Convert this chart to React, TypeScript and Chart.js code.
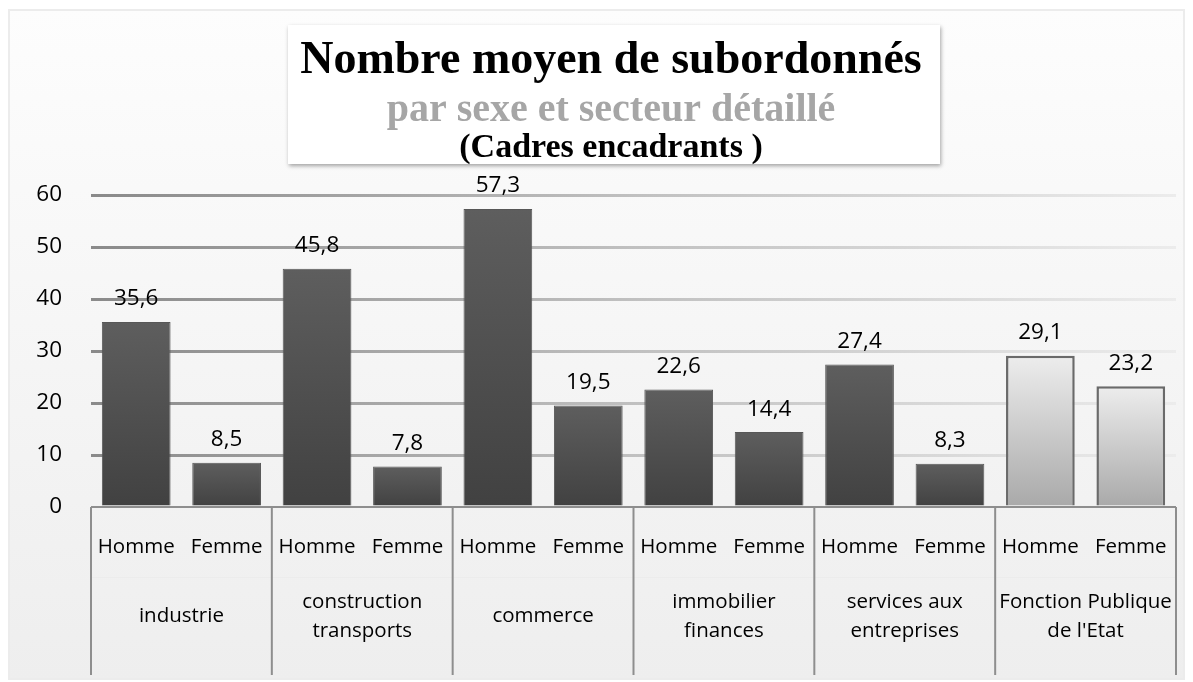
import React, { useEffect, useRef } from "react";
import { Chart, registerables } from "chart.js";

Chart.register(...registerables);

const titleLines = ["Nombre moyen de subordonnés", "par sexe et secteur détaillé", "(Cadres encadrants )"];
const sectors = [["industrie"], ["construction", "transports"], ["commerce"], ["immobilier", "finances"], ["services aux", "entreprises"], ["Fonction Publique", "de l'Etat"]];
const sexes = ["Homme", "Femme"];
const values = [35.6, 8.5, 45.8, 7.8, 57.3, 19.5, 22.6, 14.4, 27.4, 8.3, 29.1, 23.2];
const lightBars = [false, false, false, false, false, false, false, false, false, false, true, true];
const yTicks = [0, 10, 20, 30, 40, 50, 60];

const labels = values.map((_, i) => sexes[i % 2]);
const FONT = "'Open Sans', sans-serif";

const bgPlugin = {
  id: "bg",
  beforeDraw(chart: any) {
    const { ctx, width, height } = chart;
    ctx.save();
    ctx.fillStyle = "#ffffff";
    ctx.fillRect(0, 0, width, height);
    const g = ctx.createLinearGradient(0, 9, 0, 680);
    g.addColorStop(0, "#fdfdfd");
    g.addColorStop(1, "#eeeeee");
    ctx.fillStyle = g;
    ctx.fillRect(8, 9, 1177, 671);
    ctx.strokeStyle = "#ececec";
    ctx.lineWidth = 2;
    ctx.strokeRect(9, 10, 1175, 669);
    ctx.restore();
  },
};

const axisPlugin = {
  id: "multiAxis",
  afterDatasetsDraw(chart: any) {
    const { ctx, chartArea } = chart;
    const x = chart.scales.x;
    const bottom = chartArea.bottom;
    ctx.save();
    ctx.strokeStyle = "#8e8e8e";
    ctx.lineWidth = 2;
    ctx.beginPath();
    ctx.moveTo(chartArea.left, bottom);
    ctx.lineTo(chartArea.right, bottom);
    ctx.stroke();
    ctx.strokeStyle = "#ececec";
    ctx.lineWidth = 1;
    ctx.beginPath();
    ctx.moveTo(chartArea.left, 577.5);
    ctx.lineTo(chartArea.right, 577.5);
    ctx.stroke();
    ctx.strokeStyle = "#8e8e8e";
    ctx.lineWidth = 2;
    const n = values.length;
    for (let k = 0; k <= n; k += 2) {
      const px = k === n ? chartArea.right : k === 0 ? chartArea.left : (x.getPixelForValue(k - 1) + x.getPixelForValue(k)) / 2;
      ctx.beginPath();
      ctx.moveTo(px, bottom);
      ctx.lineTo(px, 675);
      ctx.stroke();
    }
    ctx.fillStyle = "#000";
    ctx.font = `20.5px ${FONT}`;
    ctx.textAlign = "center";
    ctx.textBaseline = "middle";
    for (let i = 0; i < n; i++) {
      ctx.fillText(labels[i], x.getPixelForValue(i), 547);
    }
    for (let s = 0; s < sectors.length; s++) {
      const cx = (x.getPixelForValue(2 * s) + x.getPixelForValue(2 * s + 1)) / 2;
      const lines = sectors[s];
      if (lines.length === 1) {
        ctx.fillText(lines[0], cx, 616);
      } else {
        ctx.fillText(lines[0], cx, 602);
        ctx.fillText(lines[1], cx, 631);
      }
    }
    const meta = chart.getDatasetMeta(0);
    ctx.font = `22.5px ${FONT}`;
    meta.data.forEach((bar: any, i: number) => {
      ctx.fillText(values[i].toFixed(1).replace(".", ","), bar.x, bar.y - 23);
    });
    ctx.restore();
  },
  afterDraw(chart: any) {
    const { ctx } = chart;
    ctx.save();
    ctx.shadowColor = "rgba(0,0,0,0.35)";
    ctx.shadowBlur = 4;
    ctx.shadowOffsetX = 1;
    ctx.shadowOffsetY = 2;
    ctx.fillStyle = "#ffffff";
    ctx.fillRect(288, 25, 652, 139);
    ctx.restore();
    ctx.save();
    ctx.textAlign = "center";
    ctx.textBaseline = "alphabetic";
    const cx = 611;
    ctx.fillStyle = "#000";
    ctx.font = `bold 46px 'Liberation Serif', serif`;
    ctx.fillText(titleLines[0], cx, 73);
    ctx.fillStyle = "#a6a6a6";
    ctx.font = `bold 40px 'Liberation Serif', serif`;
    ctx.fillText(titleLines[1], cx, 121);
    ctx.fillStyle = "#000";
    ctx.font = `bold 34px 'Liberation Serif', serif`;
    ctx.fillText(titleLines[2], cx, 157);
    ctx.restore();
  },
};

export default function App() {
  const ref = useRef<HTMLCanvasElement | null>(null);
  useEffect(() => {
    if (!ref.current) return;
    const chart = new Chart(ref.current, {
      type: "bar",
      data: {
        labels,
        datasets: [
          {
            data: values,
            backgroundColor: (c: any) => {
              const ca = c.chart.chartArea;
              if (!ca) return "#555";
              const light = lightBars[c.dataIndex];
              const g = c.chart.ctx.createLinearGradient(0, c.chart.scales.y.getPixelForValue(values[c.dataIndex]), 0, ca.bottom);
              if (light) {
                g.addColorStop(0, "#ededed");
                g.addColorStop(1, "#a9a9a9");
              } else {
                g.addColorStop(0, "#5e5e5e");
                g.addColorStop(1, "#414141");
              }
              return g;
            },
            borderColor: (c: any) => (lightBars[c.dataIndex] ? "#6a6a6a" : "#575757"),
            borderWidth: (c: any) => (lightBars[c.dataIndex] ? 2.5 : 1),
            barPercentage: 0.76,
            categoryPercentage: 1,
          },
        ],
      },
      options: {
        responsive: false,
        animation: false,
        events: [],
        layout: { padding: { top: 195, right: 17, bottom: 175, left: 0 } },
        plugins: { legend: { display: false }, tooltip: { enabled: false }, title: { display: false } },
        scales: {
          x: { display: false },
          y: {
            min: 0,
            max: 60,
            afterFit: (s: any) => {
              s.width = 91;
            },
            afterBuildTicks: (s: any) => {
              s.ticks = yTicks.map((v) => ({ value: v }));
            },
            border: { display: false },
            grid: {
              drawTicks: false,
              lineWidth: 3,
              color: (c: any) => {
                if (c.tick && c.tick.value === 0) return "rgba(0,0,0,0)";
                const ca = c.chart.chartArea;
                if (!ca) return "#999";
                const g = c.chart.ctx.createLinearGradient(ca.left, 0, ca.right, 0);
                g.addColorStop(0, "#8a8a8a");
                g.addColorStop(0.5, "#c0c0c0");
                g.addColorStop(1, "#ececec");
                return g;
              },
            },
            ticks: { padding: 29, color: "#000", font: { family: FONT, size: 22.5 } },
          },
        },
      },
      plugins: [bgPlugin, axisPlugin],
    });
    return () => chart.destroy();
  }, []);
  return (
    <div style={{ position: "fixed", left: 0, top: 0, width: 1193, height: 682 }}>
      <canvas ref={ref} width={1193} height={682} style={{ display: "block" }} />
    </div>
  );
}
